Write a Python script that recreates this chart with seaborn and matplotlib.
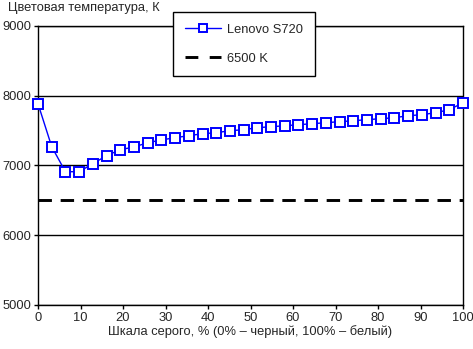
import matplotlib
matplotlib.use("Agg")
import matplotlib.pyplot as plt
import seaborn as sns
import pandas as pd
import numpy as np

# Data
gray_levels = [i * 100 / 31 for i in range(32)]
temperature = [7886, 7270, 6911, 6911, 7026, 7141, 7227, 7265, 7327, 7366, 7399,
               7427, 7456, 7470, 7499, 7513, 7542, 7556, 7570, 7585, 7599,
               7614, 7628, 7642, 7657, 7671, 7685, 7714, 7728, 7757, 7800, 7900]
series_name = "Lenovo S720"
reference_value = 6500
reference_name = "6500 K"
x_ticks = [0, 10, 20, 30, 40, 50, 60, 70, 80, 90, 100]
y_ticks = [5000, 6000, 7000, 8000, 9000]
title = "Цветовая температура, К"
xlabel = "Шкала серого, % (0% – черный, 100% – белый)"

sns.set_style("white")
plt.rcParams['font.family'] = ['Liberation Sans', 'DejaVu Sans']
FS = 9.3
plt.rcParams['font.size'] = FS

df = pd.DataFrame({"x": gray_levels, "y": temperature})

fig = plt.figure(figsize=(4.73, 3.49), dpi=100)
ax = fig.add_axes([38/473, 1-305/349, (463-38)/473, (305-26)/349])

sns.lineplot(data=df, x="x", y="y", ax=ax, color="#0000FF", linewidth=1,
             marker="s", markersize=6.5, markerfacecolor="white",
             markeredgecolor="#0000FF", markeredgewidth=1.4, label=series_name,
             zorder=4, clip_on=False)
ax.axhline(reference_value, color="black", linewidth=2.1, dashes=(4.6, 3.0),
           label=reference_name, zorder=3)

ax.set_xlim(0, 100)
ax.set_ylim(5000, 9000)
ax.set_xticks(x_ticks)
ax.set_yticks(y_ticks)
ax.yaxis.grid(True, color="black", linewidth=1)
ax.xaxis.grid(False)
for s in ax.spines.values():
    s.set_color("black")
    s.set_linewidth(1)
ax.tick_params(axis="both", direction="out", length=3, width=1, color="black",
               labelsize=FS, pad=2, left=True, bottom=True)
ax.set_xlabel(xlabel, fontsize=FS, labelpad=1)
ax.set_ylabel("")

fig.text(8/473, 1-1.5/349, title, ha="left", va="top", fontsize=FS)

leg = ax.legend(loc="upper left", bbox_to_anchor=(173/473, 1-12/349),
                bbox_transform=fig.transFigure, frameon=True, fancybox=False,
                edgecolor="black", framealpha=1, fontsize=FS, handlelength=2.8,
                borderpad=0.9, labelspacing=1.3, handletextpad=0.5,
                borderaxespad=0)
leg.get_frame().set_linewidth(1)
leg.set_zorder(10)
leg_lines = leg.get_lines()
leg_lines[1].set_linestyle((0, (4.4, 3.9)))
leg_lines[0].set_markersize(5.5)

fig.savefig("out.png", dpi=100)
